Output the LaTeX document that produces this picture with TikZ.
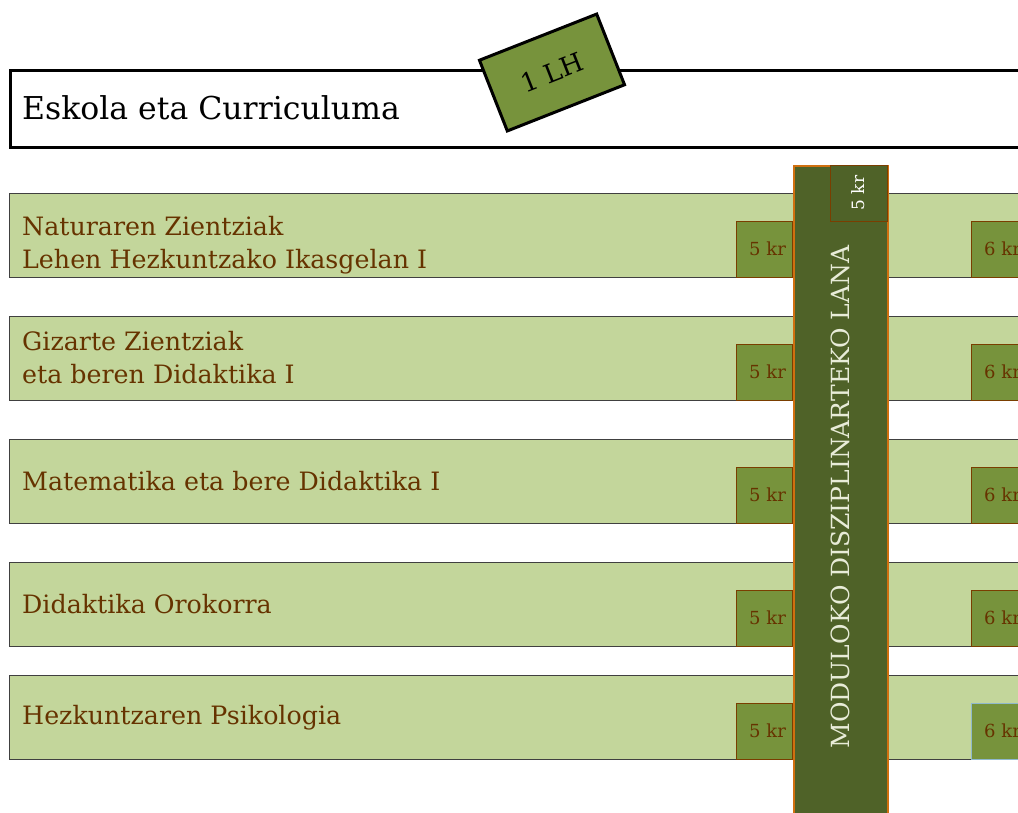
\documentclass[tikz,border=0pt]{standalone}
\usepackage{fontspec}
\setmainfont{DejaVu Serif}
\definecolor{lightg}{HTML}{C3D69B}
\definecolor{midg}{HTML}{77933C}
\definecolor{darkg}{HTML}{4F6228}
\definecolor{brownt}{HTML}{663300}
\definecolor{brownb}{HTML}{7A3E00}
\definecolor{orangeb}{HTML}{D07010}
\definecolor{rowb}{HTML}{404040}
\definecolor{vtext}{HTML}{E8ECD8}
\definecolor{blueb}{HTML}{8FB8CC}
\tikzset{
  rowbox/.style={draw=rowb, line width=1pt, fill=lightg, anchor=north west, minimum width=1040pt, minimum height=84pt, inner sep=0pt},
  rowtext/.style={anchor=west, text=brownt, font=\fontsize{25.3}{33}\selectfont, align=left, inner sep=0pt},
  krbox/.style={draw=brownb, line width=0.8pt, fill=midg, anchor=north west, minimum width=56pt, minimum height=56pt, inner sep=0pt},
  krtext/.style={text=brownt, font=\fontsize{18}{20}\selectfont, inner sep=0pt},
}
\begin{document}
\begin{tikzpicture}[x=1pt,y=-1pt]
\useasboundingbox (0,0) rectangle (1018,812);
\clip (0,0) rectangle (1018,812);
% header
\node[draw=black, line width=3pt, anchor=north west, minimum width=1040pt, minimum height=77pt, inner sep=0pt] (head) at (9,69) {};
\node[anchor=base west, inner sep=0pt, font=\fontsize{31.5}{36}\selectfont] (headt) at (22,119) {Eskola eta Curriculuma};
\node[draw=black, line width=3pt, fill=midg, minimum width=126pt, minimum height=76pt, rotate=21.5, inner sep=0pt, font=\fontsize{26}{30}\selectfont] (lh) at (552,72.5) {\raisebox{-6pt}{1 LH}\hspace{26pt}};
% rows
\foreach \i/\y in {1/193,2/316,3/439,4/562,5/675}{
  \node[rowbox] (r\i) at (9,\y) {};
}
\foreach \i/\y in {1/221,2/344,3/467,4/590,5/703}{
  \node[krbox] (a\i) at (736,\y) {};
  \node[krtext, anchor=west] at (749,\y+28) {5 kr};
}
\foreach \i/\y in {1/221,2/344,3/467,4/590}{
  \node[krbox, minimum width=70pt] (b\i) at (971,\y) {};
  \node[krtext, anchor=west] at (984,\y+28) {6 kr};
}
\node[krbox, draw=blueb, line width=1.2pt, minimum width=70pt] (b5) at (971,703) {};
\node[krtext, anchor=west] at (984,731) {6 kr};
\node[rowtext] (t1) at (22,245) {Naturaren Zientziak\\Lehen Hezkuntzako Ikasgelan I};
\node[rowtext] (t2) at (22,358) {Gizarte Zientziak\\eta beren Didaktika I};
\node[rowtext] (t3) at (22,481) {Matematika eta bere Didaktika I};
\node[rowtext] (t4) at (22,604) {Didaktika Orokorra};
\node[rowtext] (t5) at (22,718) {Hezkuntzaren Psikologia};
% vertical bar
\node[draw=orangeb, line width=1.5pt, fill=darkg, anchor=north west, minimum width=94pt, minimum height=660pt, inner sep=0pt] (bar) at (793,165) {};
\node[draw=brownb, line width=0.8pt, fill=darkg, anchor=north west, minimum width=57pt, minimum height=56pt, inner sep=0pt] (topk) at (830,165) {};
\node[rotate=90, text=white, font=\fontsize{17}{20}\selectfont, inner sep=0pt] at (858,193) {5 kr};
\node[rotate=90, text=vtext, font=\fontsize{25}{28}\selectfont, inner sep=0pt] (vt) at (840,497) {MODULOKO DISZIPLINARTEKO LANA};
\end{tikzpicture}
\end{document}
